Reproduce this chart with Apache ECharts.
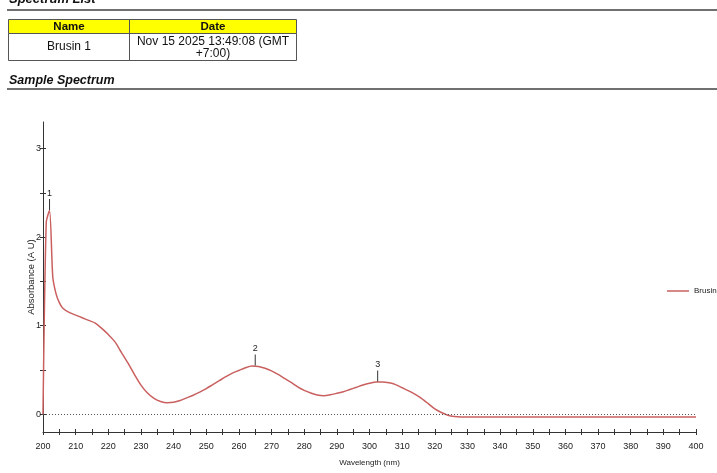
<!DOCTYPE html>
<html>
<head>
<meta charset="utf-8">
<script src="https://cdn.jsdelivr.net/npm/echarts@6.0.0/dist/echarts.min.js"></script>
<style>
  html, body { margin: 0; padding: 0; background: #fff; }
  #main { width: 717px; height: 473px; }
</style>
</head>
<body>
<div id="main"></div>
<script>
// spectrum (nm / AU)
var wavelength = [200, 201, 202, 203, 204, 205, 206, 208, 210, 212, 214, 216, 218, 220, 222, 224, 226, 228, 230,
  232, 234, 236, 238, 240, 242, 244, 246, 248, 250, 252, 254, 256, 258, 260, 262, 264, 266, 268, 270,
  272, 274, 276, 278, 280, 282, 284, 286, 288, 290, 292, 294, 296, 298, 300, 302, 304, 306, 308, 310,
  312, 314, 316, 318, 320, 322, 324, 326, 328, 330, 340, 350, 360, 370, 380, 390, 400];
var absorbance = [0.0, 2.17, 2.30, 1.55, 1.36, 1.26, 1.20, 1.15, 1.12, 1.09, 1.06, 1.03, 0.97, 0.90, 0.82, 0.70, 0.58, 0.45, 0.33,
  0.24, 0.18, 0.145, 0.13, 0.135, 0.155, 0.185, 0.215, 0.25, 0.29, 0.335, 0.38, 0.425, 0.465, 0.495, 0.525, 0.545, 0.54, 0.52, 0.49,
  0.45, 0.405, 0.36, 0.31, 0.27, 0.24, 0.218, 0.21, 0.22, 0.237, 0.255, 0.28, 0.305, 0.33, 0.35, 0.365, 0.365, 0.355, 0.335, 0.30,
  0.265, 0.225, 0.178, 0.12, 0.06, 0.02, -0.01, -0.025, -0.03, -0.03, -0.03, -0.03, -0.03, -0.03, -0.03, -0.03, -0.03];
var peakNames = ['1', '2', '3'];
var peakWl = [202, 265, 302.5];
var peakAbs = [2.30, 0.545, 0.365];
var xTicks = [200, 205, 210, 215, 220, 225, 230, 235, 240, 245, 250, 255, 260, 265, 270, 275, 280, 285, 290, 295, 300,
  305, 310, 315, 320, 325, 330, 335, 340, 345, 350, 355, 360, 365, 370, 375, 380, 385, 390, 395, 400];
var xLabels = [200, 210, 220, 230, 240, 250, 260, 270, 280, 290, 300, 310, 320, 330, 340, 350, 360, 370, 380, 390, 400];
var yTicks = [0, 0.5, 1, 1.5, 2, 2.5, 3];
var yLabels = [0, 1, 2, 3];
var sampleName = 'Brusin 1';
var sampleDate = ['Nov 15 2025 13:49:08 (GMT', '+7:00)'];

var narrow = "'Liberation Sans Narrow', 'Liberation Sans', sans-serif";
var sans = "'Liberation Sans', Arial, sans-serif";
var lineColor = '#c9605f';

var seriesData = [];
for (var i = 0; i < wavelength.length; i++) {
  seriesData.push([wavelength[i], absorbance[i]]);
}
var peaks = [];
for (var j = 0; j < peakNames.length; j++) {
  peaks.push({ name: peakNames[j], coord: [peakWl[j], peakAbs[j]], value: peakNames[j] });
}

function txt(x, y, text, font, align) {
  return {
    type: 'text', x: x, y: y, silent: true,
    style: { text: text, font: font, fill: '#111', align: align || 'left', textAlign: align || 'left',
      verticalAlign: 'middle', textVerticalAlign: 'middle' }
  };
}

var dom = document.getElementById('main');
var myChart = echarts.init(dom, null, { renderer: 'canvas' });
var option = {
  animation: false,
  backgroundColor: '#fff',
  graphic: [
    // report header above the chart
    txt(9, -1, 'Spectrum List', 'italic bold 13px ' + sans),
    { type: 'rect', shape: { x: 7, y: 9, width: 710, height: 2 }, style: { fill: '#707070' }, silent: true },
    { type: 'rect', shape: { x: 8.5, y: 19.5, width: 288, height: 14 }, style: { fill: '#ffff00', stroke: '#555', lineWidth: 1 }, silent: true },
    { type: 'rect', shape: { x: 8.5, y: 33.5, width: 288, height: 27 }, style: { fill: '#fff', stroke: '#555', lineWidth: 1 }, silent: true },
    { type: 'line', shape: { x1: 129.5, y1: 19.5, x2: 129.5, y2: 60.5 }, style: { stroke: '#555', lineWidth: 1 }, silent: true },
    txt(69, 27, 'Name', 'bold 11.5px ' + sans, 'center'),
    txt(213, 27, 'Date', 'bold 11.5px ' + sans, 'center'),
    txt(69, 47, sampleName, '12px ' + sans, 'center'),
    txt(213, 42, sampleDate[0], '12px ' + sans, 'center'),
    txt(213, 54, sampleDate[1], '12px ' + sans, 'center'),
    txt(9, 81, 'Sample Spectrum', 'italic bold 12.5px ' + sans),
    { type: 'rect', shape: { x: 7, y: 88, width: 710, height: 2 }, style: { fill: '#707070' }, silent: true }
  ],
  legend: {
    data: [sampleName],
    left: 667, top: 287,
    icon: 'rect', itemWidth: 22, itemHeight: 1.5,
    itemStyle: { color: lineColor },
    textStyle: { fontFamily: narrow, fontSize: 8, color: '#222' },
    padding: 0
  },
  grid: { left: 43, right: 21, top: 122, bottom: 41, containLabel: false },
  xAxis: [{
    type: 'value', min: 200, max: 400,
    name: 'Wavelength (nm)', nameLocation: 'middle', nameGap: 27,
    nameTextStyle: { fontFamily: narrow, fontSize: 8, color: '#222' },
    axisLine: { show: true, onZero: false, lineStyle: { color: '#333', width: 1 } },
    axisTick: { show: true, length: 3, customValues: xTicks, lineStyle: { color: '#333' } },
    axisLabel: { customValues: xLabels, fontFamily: narrow, fontSize: 9, color: '#222', margin: 10 },
    splitLine: { show: false }
  }, {
    type: 'value', min: 200, max: 400, position: 'bottom',
    axisLine: { show: false, onZero: false },
    axisTick: { show: true, inside: true, length: 3, customValues: xTicks, lineStyle: { color: '#333' } },
    axisLabel: { show: false },
    splitLine: { show: false }
  }],
  yAxis: [{
    type: 'value', min: -0.2, max: 3.3,
    name: 'Absorbance (A U)', nameLocation: 'middle', nameGap: 7, nameMoveOverlap: false,
    nameTextStyle: { fontFamily: narrow, fontSize: 9.5, color: '#222' },
    axisLine: { show: true, onZero: false, lineStyle: { color: '#333', width: 1 } },
    axisTick: { show: true, length: 3, customValues: yTicks, lineStyle: { color: '#333' } },
    axisLabel: { customValues: yLabels, fontFamily: narrow, fontSize: 9, color: '#222', margin: 2 },
    splitLine: { show: false }
  }, {
    type: 'value', min: -0.2, max: 3.3, position: 'left',
    axisLine: { show: false, onZero: false },
    axisTick: { show: true, inside: true, length: 3, customValues: yTicks, lineStyle: { color: '#333' } },
    axisLabel: { show: false },
    splitLine: { show: false }
  }],
  series: [{
    name: sampleName,
    type: 'line',
    data: seriesData,
    showSymbol: false,
    smooth: 0.25,
    lineStyle: { color: lineColor, width: 1.5 },
    itemStyle: { color: lineColor },
    markLine: {
      silent: true, symbol: 'none',
      label: { show: false },
      lineStyle: { color: '#555', type: [1, 2], width: 1 },
      data: [{ yAxis: 0 }]
    },
    markPoint: {
      silent: true,
      symbol: 'rect', symbolSize: [1, 11], symbolOffset: [0, -6],
      itemStyle: { color: '#333' },
      label: { show: true, position: 'top', distance: 1, formatter: '{b}', fontFamily: narrow, fontSize: 9, color: '#222' },
      data: peaks
    }
  }]
};
myChart.setOption(option, true);
</script>
</body>
</html>
